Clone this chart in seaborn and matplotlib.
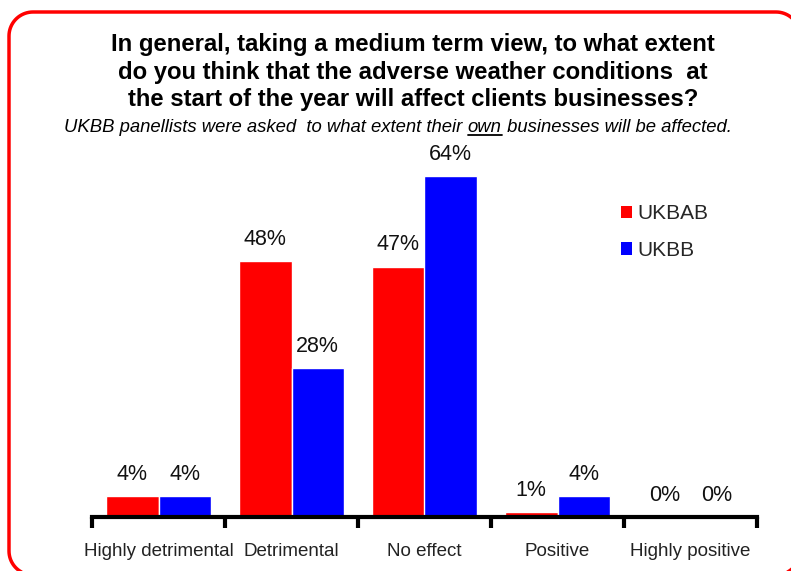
import matplotlib
matplotlib.use("Agg")
import matplotlib.pyplot as plt
from matplotlib.patches import Patch
from matplotlib.lines import Line2D
from matplotlib import font_manager
import seaborn as sns
import pandas as pd
import numpy as np

categories = ["Highly detrimental", "Detrimental", "No effect", "Positive", "Highly positive"]
series_names = ["UKBAB", "UKBB"]
ukbab = [4, 48, 47, 1, 0]
ukbb = [4, 28, 64, 4, 0]
colors = ["#FF0000", "#0000FF"]

title = ("In general, taking a medium term view, to what extent\n"
         "do you think that the adverse weather conditions  at\n"
         "the start of the year will affect clients businesses?")
sub_parts = ["UKBB panellists were asked  to what extent their ", "own",
             " businesses will be affected."]

df = pd.DataFrame({
    "category": categories * 2,
    "series": [series_names[0]] * len(categories) + [series_names[1]] * len(categories),
    "value": ukbab + ukbb,
})

sns.set_style("white")
names = {f.name for f in font_manager.fontManager.ttflist}
narrow = "Liberation Sans Narrow" if "Liberation Sans Narrow" in names else "Liberation Sans"
plt.rcParams["font.family"] = ["Liberation Sans", "DejaVu Sans"]

W, H = 791, 571
fig = plt.figure(figsize=(W / 100, H / 100), dpi=100)

# background layer in pixel units (origin bottom-left) for the rounded slide frame
bg = fig.add_axes([0, 0, 1, 1], zorder=-1)
bg.set_xlim(0, W)
bg.set_ylim(0, H)
bg.axis("off")
fl, fr, ft, fb, r = 9, 800, H - 12, H - 575, 24
xs, ys = [], []
for cx, cy, a0 in [(fr - r, ft - r, 0), (fl + r, ft - r, 90),
                   (fl + r, fb + r, 180), (fr - r, fb + r, 270)]:
    t = np.radians(np.linspace(a0, a0 + 90, 20))
    xs.extend(cx + r * np.cos(t))
    ys.extend(cy + r * np.sin(t))
xs.append(xs[0])
ys.append(ys[0])
bg.plot(xs, ys, color="#FF0000", linewidth=2.5, clip_on=False)

x0, x1 = 92, 757
y_base, y_top = 517, 144
ax = fig.add_axes([x0 / W, (H - y_base) / H, (x1 - x0) / W, (y_base - y_top) / H])
ax.patch.set_alpha(0)

sns.barplot(data=df, x="category", y="value", hue="series", order=categories,
            hue_order=series_names, palette=colors, width=0.79, saturation=1,
            ax=ax, legend=False, errorbar=None)

ax.set_ylim(0, 70)
ax.set_xlim(-0.5, len(categories) - 0.5)
for s in ["top", "right", "left"]:
    ax.spines[s].set_visible(False)
ax.spines["bottom"].set_linewidth(3)
ax.spines["bottom"].set_color("black")
ax.set_yticks([])
ax.set_xlabel("")
ax.set_ylabel("")

# category boundaries carry the tick marks, labels sit centred below
ax.set_xticks([i - 0.5 for i in range(len(categories) + 1)])
ax.set_xticklabels([])
ax.tick_params(axis="x", direction="out", length=8, width=3, color="black", bottom=True)
for i, c in enumerate(categories):
    ax.text(i, -6.5, c, ha="center", va="center", fontsize=13.5,
            family=[narrow, "DejaVu Sans"], color="#222222")

for container in ax.containers:
    ax.bar_label(container, labels=[f"{v:.0f}%" for v in container.datavalues],
                 padding=8, fontsize=15.5, color="#111111")

handles = [Patch(facecolor=c, edgecolor="none") for c in colors]
ax.legend(handles, series_names, loc="upper left", bbox_to_anchor=(0.795, 0.838),
          frameon=False, fontsize=15, handlelength=0.55, handleheight=0.55,
          handletextpad=0.25, labelspacing=0.85, borderpad=0, borderaxespad=0)

fig.text(413 / W, 1 - 72 / H, title, ha="center", va="center", fontsize=17.2,
         fontweight="bold", linespacing=1.27, color="black")

# subtitle with the underlined word
renderer = fig.canvas.get_renderer()
sub_font = dict(fontsize=13.3, style="italic", family=[narrow, "DejaVu Sans"], color="black")
pieces = []
for p in sub_parts:
    pieces.append(fig.text(0, 1 - 127 / H, p, ha="left", va="center", **sub_font))
widths = [t.get_window_extent(renderer).width for t in pieces]
total = sum(widths)
xpos = 398 - total / 2
for t, w in zip(pieces, widths):
    t.set_x(xpos / W)
    xpos += w
bb = pieces[1].get_window_extent(renderer)
uy = bb.y0 + 1
fig.add_artist(Line2D([bb.x0 / W, bb.x1 / W], [uy / H, uy / H], color="black",
                      linewidth=1.3, transform=fig.transFigure))

fig.savefig("out.png", dpi=100)
